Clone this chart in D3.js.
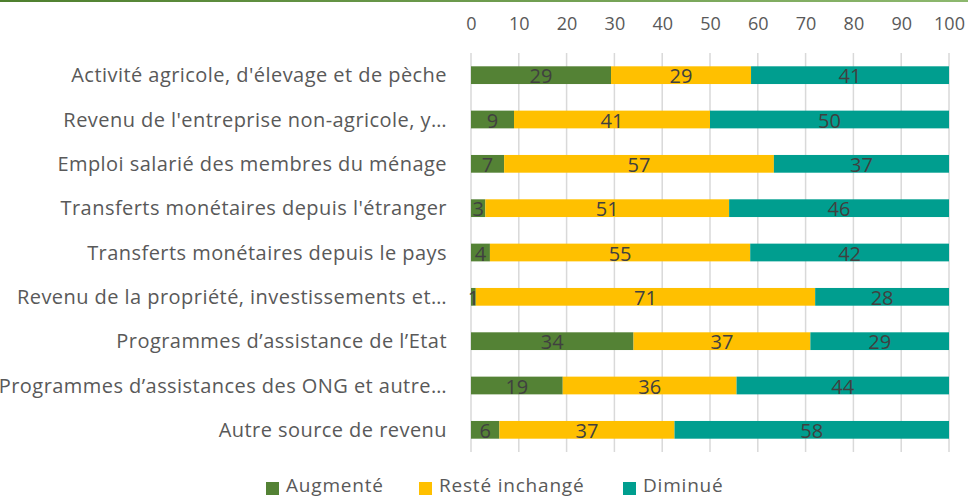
<!DOCTYPE html>
<html><head><meta charset="utf-8">
<script src="https://cdn.jsdelivr.net/npm/d3@7"></script>
<style>
html,body{margin:0;padding:0;background:#fff;}
svg{display:block;font-family:"Open Sans",sans-serif;}
</style></head>
<body><svg id="c" width="968" height="497"></svg>
<script>
const categories = [
  "Activité agricole, d'élevage et de pèche",
  "Revenu de l'entreprise non-agricole, y…",
  "Emploi salarié des membres du ménage",
  "Transferts monétaires depuis l'étranger",
  "Transferts monétaires depuis le pays",
  "Revenu de la propriété, investissements et…",
  "Programmes d’assistance de l’Etat",
  "Programmes d’assistances des ONG et autre…",
  "Autre source de revenu"
];
const augmente = [29, 9, 7, 3, 4, 1, 34, 19, 6];
const reste    = [29, 41, 57, 51, 55, 71, 37, 36, 37];
const diminue  = [41, 50, 37, 46, 42, 28, 29, 44, 58];
const seriesNames = ["Augmenté", "Resté inchangé", "Diminué"];
const seriesColors = ["#548235", "#FFC000", "#009E8F"];
const tickValues = [0,10,20,30,40,50,60,70,80,90,100];

const svg = d3.select("#c");
const defs = svg.append("defs");
const lg = defs.append("linearGradient").attr("id","topline");
lg.append("stop").attr("offset","0%").attr("stop-color","#4E7F2E");
lg.append("stop").attr("offset","100%").attr("stop-color","#8DB86E");
svg.append("rect").attr("x",0).attr("y",0).attr("width",968).attr("height",2).attr("fill","url(#topline)");

const x = d3.scaleLinear().domain([0,100]).range([471,949]);
const y = d3.scaleBand().domain(categories).range([53,452]).paddingInner(0.6).paddingOuter(0.3);

// gridlines
svg.append("g").selectAll("line").data(tickValues).join("line")
  .attr("x1",d=>x(d)).attr("x2",d=>x(d)).attr("y1",53).attr("y2",452)
  .attr("stroke","#D9D9D9").attr("stroke-width",1.5);

// top axis labels
const ax = svg.append("g").attr("transform","translate(0,30)")
  .call(d3.axisTop(x).tickValues(tickValues).tickSize(0).tickPadding(0));
ax.select(".domain").remove();
ax.selectAll("text").attr("fill","#595959").attr("font-size",18).attr("font-family","'Open Sans',sans-serif");

// 100% stacked: normalise each row to its total
const stackData = categories.map((c,i)=>{
  const t = augmente[i] + reste[i] + diminue[i];
  return {cat:c, s0:augmente[i]/t*100, s1:reste[i]/t*100, s2:diminue[i]/t*100, raw:[augmente[i], reste[i], diminue[i]]};
});
const keys = ["s0","s1","s2"];
const stack = d3.stack().keys(keys)(stackData);

const g = svg.append("g");
stack.forEach((layer,k)=>{
  g.append("g").selectAll("rect").data(layer).join("rect")
    .attr("x",d=>x(d[0])).attr("width",d=>x(d[1])-x(d[0]))
    .attr("y",d=>y(d.data.cat)).attr("height",y.bandwidth())
    .attr("fill",seriesColors[k]);
});
stack.forEach((layer,k)=>{
  g.append("g").selectAll("text").data(layer).join("text")
    .attr("x",d=>x((d[0]+d[1])/2)).attr("y",d=>y(d.data.cat)+y.bandwidth()/2+8)
    .attr("text-anchor","middle").attr("font-size",20).attr("fill","#404040")
    .text(d=>d.data.raw[k]);
});

// category labels
svg.append("g").selectAll("text").data(categories).join("text")
  .attr("x",447).attr("y",d=>y(d)+y.bandwidth()/2).attr("dy","0.35em")
  .attr("text-anchor","end").attr("font-size",20).attr("letter-spacing",0.45)
  .attr("fill","#595959").text(d=>d);

// legend
const legX = [266,419,623];
const leg = svg.append("g");
seriesNames.forEach((n,i)=>{
  leg.append("rect").attr("x",legX[i]).attr("y",482).attr("width",13).attr("height",13).attr("fill",seriesColors[i]);
  leg.append("text").attr("x",legX[i]+20).attr("y",492).attr("font-size",19).attr("letter-spacing",0.8)
    .attr("fill","#595959").text(n);
});
</script></body></html>
